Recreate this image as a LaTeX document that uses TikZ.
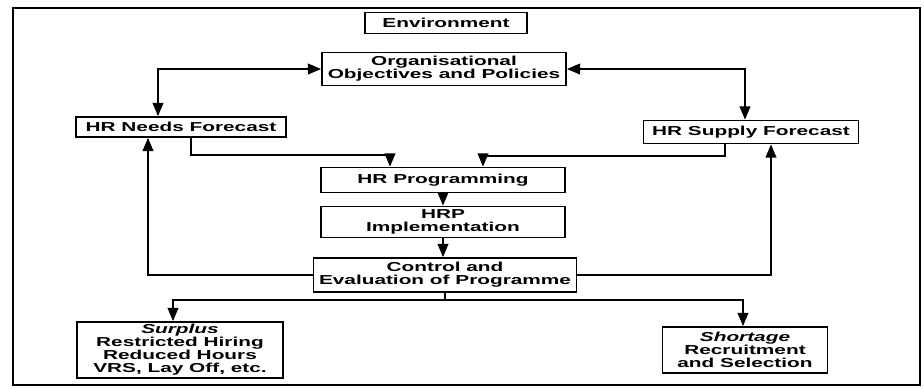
\documentclass[tikz,border=0pt]{standalone}
\usepackage{fontspec}
\newfontfamily\flowfont[FakeStretch=1.6]{Liberation Sans}
\usetikzlibrary{positioning,calc,arrows}

\tikzset{
  blk/.style={draw, line width=1.1pt, align=center, inner sep=1pt,
    font={\flowfont\bfseries\fontsize{7.4pt}{7.4pt}\selectfont}},
  wd/.style={minimum width=#1*0.02cm},
  ht/.style={minimum height=#1*0.02cm},
}

\begin{document}
\begin{tikzpicture}[x=0.02cm, y=-0.02cm, >=triangle 45, line width=0.7pt]
            \useasboundingbox (0,0) rectangle (924,389);
            \draw[line width=1.2pt] (13,8) rectangle (920,385);
            % boxes
            \node[blk, wd=162, ht=21] (env) at (446,23) {Environment};
            \node[blk, wd=244, ht=33] (org) at (444,69) {Organisational\\Objectives and Policies};
            \node[blk, wd=210, ht=20] (needs) at (181,127) {HR Needs Forecast};
            \node[blk, wd=215, ht=23] (supply) at (751,132) {HR Supply Forecast};
            \node[blk, wd=244, ht=25] (prog) at (443,180) {HR Programming};
            \node[blk, wd=244, ht=31] (impl) at (443,222) {HRP\\Implementation};
            \node[blk, wd=263, ht=34] (ctrl) at (445,275) {Control and\\Evaluation of Programme};
            \node[blk, wd=206, ht=56] (surplus) at (180,350) {\itshape Surplus\\Restricted Hiring\\Reduced Hours\\VRS, Lay Off, etc.};
            \node[blk, wd=165, ht=46] (shortage) at (745,350) {\itshape Shortage\\Recruitment\\and Selection};
            % turning points
            \coordinate (lt) at (158,67);
            \coordinate (rt) at (745,69);
            \coordinate (nd) at (191,155);
            \coordinate (pl) at (390,155);
            \coordinate (sd) at (725,156);
            \coordinate (pr) at (483,156);
            \coordinate (fl) at (148,274);
            \coordinate (fr) at (771,274);
            \coordinate (br) at (445,300);
            \coordinate (sl) at (173,300);
            \coordinate (sr) at (743,300);
            % objectives to forecasts
            \draw[<->] (needs.north -| lt) |- (org.west);
            \draw[<->] (org.east) -| (supply.north -| rt);
            % forecasts to programming
            \draw[->] (needs.south -| nd) |- (pl) -- (prog.north -| pl);
            \draw[->] (supply.south -| sd) |- (pr) -- (prog.north -| pr);
            \draw[->] (prog.south) -- (impl.north);
            \draw[->] (impl.south) -- (impl.south |- ctrl.north);
            % feedback
            \draw[->] (ctrl.west) -| (needs.south -| fl);
            \draw[->] (ctrl.east) -| (supply.south -| fr);
            % outcomes
            \draw (ctrl.south) -- (br);
            \draw[->] (br) -- (sl) -- (surplus.north -| sl);
            \draw[->] (br) -- (sr) -- (shortage.north -| sr);
        \end{tikzpicture}
\end{document}
